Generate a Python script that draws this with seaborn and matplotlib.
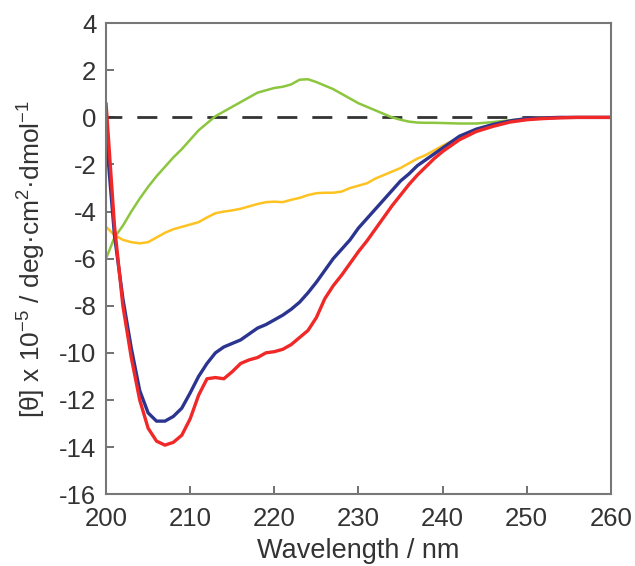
import numpy as np
import pandas as pd
import matplotlib
matplotlib.use("Agg")
import matplotlib.pyplot as plt
import seaborn as sns

# Data -------------------------------------------------------------------------
WAVELENGTH = [200, 201, 202, 203, 204, 205, 206, 207, 208, 209,
              210, 211, 212, 213, 214, 215, 216, 217, 218, 219,
              220, 221, 222, 223, 224, 225, 226, 227, 228, 229,
              230, 231, 232, 233, 234, 235, 236, 237, 238, 239,
              240, 242, 244, 246, 248, 250, 252, 254, 256, 258, 260]

GREEN = [-6.0, -5.1, -4.6, -4.0, -3.45, -2.95, -2.5, -2.1, -1.7, -1.35,
         -0.95, -0.55, -0.25, 0.05, 0.25, 0.45, 0.65, 0.85, 1.05, 1.15,
         1.25, 1.3, 1.4, 1.6, 1.62, 1.5, 1.35, 1.2, 1.0, 0.8,
         0.6, 0.45, 0.3, 0.15, 0.0, -0.1, -0.18, -0.22, -0.23, -0.23,
         -0.24, -0.26, -0.26, -0.2, -0.12, -0.05, -0.02, 0.0, 0.0, 0.0, 0.0]

YELLOW = [-4.65, -5.0, -5.2, -5.3, -5.35, -5.3, -5.1, -4.9, -4.75, -4.65,
          -4.55, -4.45, -4.25, -4.07, -4.0, -3.95, -3.88, -3.78, -3.68, -3.6,
          -3.58, -3.6, -3.5, -3.42, -3.3, -3.22, -3.2, -3.2, -3.15, -3.0,
          -2.9, -2.8, -2.6, -2.45, -2.3, -2.15, -1.95, -1.75, -1.6, -1.4,
          -1.2, -0.85, -0.5, -0.3, -0.15, -0.05, 0.0, 0.0, 0.0, 0.0, 0.0]

BLUE = [-0.7, -5.0, -7.7, -9.8, -11.6, -12.55, -12.9, -12.9, -12.7, -12.35,
        -11.7, -11.0, -10.45, -10.0, -9.75, -9.6, -9.45, -9.2, -8.95, -8.8,
        -8.6, -8.4, -8.15, -7.85, -7.45, -7.0, -6.5, -6.0, -5.6, -5.2,
        -4.7, -4.3, -3.9, -3.5, -3.1, -2.7, -2.4, -2.05, -1.8, -1.55,
        -1.3, -0.8, -0.5, -0.3, -0.15, -0.05, -0.02, 0.0, 0.0, 0.0, 0.0]

RED = [0.6, -4.6, -8.0, -10.2, -12.0, -13.2, -13.75, -13.92, -13.8, -13.5,
       -12.8, -11.8, -11.1, -11.05, -11.1, -10.8, -10.45, -10.3, -10.2, -10.0,
       -9.95, -9.85, -9.65, -9.35, -9.05, -8.5, -7.7, -7.15, -6.7, -6.2,
       -5.7, -5.25, -4.75, -4.25, -3.75, -3.3, -2.85, -2.45, -2.1, -1.75,
       -1.45, -0.95, -0.6, -0.38, -0.2, -0.1, -0.05, -0.02, 0.0, 0.0, 0.0]

SERIES = {"green": GREEN, "yellow": YELLOW, "blue": BLUE, "red": RED}
COLORS = {"green": "#8cc63e", "yellow": "#fec221", "blue": "#2b3590", "red": "#f02828"}
WIDTHS = {"green": 1.8, "yellow": 1.8, "blue": 2.4, "red": 2.4}

X_TICKS = [200, 210, 220, 230, 240, 250, 260]
Y_TICKS = [-16, -14, -12, -10, -8, -6, -4, -2, 0, 2, 4]

# Style ------------------------------------------------------------------------
sns.set_style("white")
plt.rcParams["font.family"] = ["Liberation Sans", "DejaVu Sans"]
plt.rcParams.update({"mathtext.fontset": "custom",
                     "mathtext.rm": "Liberation Sans",
                     "mathtext.it": "Liberation Sans:italic",
                     "mathtext.bf": "Liberation Sans:bold",
                     "axes.unicode_minus": False})

df = pd.DataFrame({"wl": WAVELENGTH, **SERIES})
long = df.melt(id_vars="wl", var_name="sample", value_name="theta")

fig = plt.figure(figsize=(6.35, 5.66), dpi=100)
ax = fig.add_axes([0.167, 0.127, 0.795, 0.832])

ax.axhline(0, color="#333333", lw=2.0, ls=(1.5, (7.2, 5.4)), zorder=1)

for name in SERIES:
    sns.lineplot(data=long[long["sample"] == name], x="wl", y="theta",
                 color=COLORS[name], lw=WIDTHS[name], ax=ax, zorder=2)

ax.set_xlim(200, 260)
ax.set_ylim(-16, 4)
ax.set_xticks(X_TICKS)
ax.set_yticks(Y_TICKS)

ax.set_xlabel("Wavelength / nm", fontsize=19.5, color="#333333", labelpad=5)
ax.set_ylabel("[θ] x 10$^{-5}$ / deg·cm$^{2}$·dmol$^{-1}$",
              fontsize=19, color="#333333", labelpad=8)

ax.tick_params(axis="both", direction="in", length=6, width=1.3,
               bottom=True, left=True, top=False, right=False,
               colors="#666666", labelcolor="#333333", labelsize=18.5)
ax.tick_params(axis="x", pad=9)
ax.tick_params(axis="y", pad=7)
for s in ax.spines.values():
    s.set_color("#777777")
    s.set_linewidth(1.5)

fig.savefig("out.png", dpi=100)
